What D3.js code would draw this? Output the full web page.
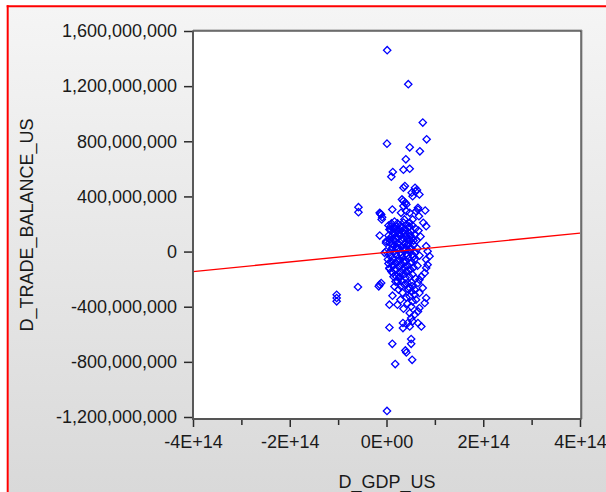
<!DOCTYPE html>
<html>
<head>
<meta charset="utf-8">
<script src="https://cdn.jsdelivr.net/npm/d3@7"></script>
<style>
  html, body { margin: 0; padding: 0; background: #ffffff; }
  svg { display: block; }
  .tick text { font-family: "Liberation Sans", Arial, sans-serif; font-size: 18px; fill: #1a1a1a; }
</style>
</head>
<body>
<svg id="chart" width="606" height="492"></svg>
<script>
// First differences of US GDP (x) and US trade balance (y), one entry per observation.
const dGdpUs = [
  1.4e12, 45e12, 75e12, 83e12, 1e12, 48e12, 69e12, 40e12, 35e12, 48e12,
  13e12, 10e12, 35e12, 38e12, 59e12, 63e12, 52e12, 68e12, 54e12, 60e12,
  32e12, 39e12, 35e12, -58e12, -58e12, -14e12, -11e12, 12e12, 30e12, 41e12,
  48e12, 61e12, 65e12, 80e12, -13e12, -9e12, -10e12, 35e12, 41e12, 65e12,
  67e12, 54e12, 48e12, 37e12, 76e12, 82e12, -14e12, -1e12, 6e12, 17e12,
  82e12, 85e12, 89e12, 82e12, 85e12, 82e12, 79e12, 72e12, 68e12, -1e12,
  3e12, 6e12, 13e12, 20e12, 27e12, 23e12, -59e12, -14e12, -11e12, -16e12,
  30e12, 37e12, 44e12, 48e12, 54e12, 65e12, 75e12, 68e12, -103e12, -103e12,
  -103e12, 6e12, 48e12, 58e12, 61e12, 54e12, 51e12, 82e12, 79e12, 68e12,
  65e12, 48e12, 58e12, 51e12, 44e12, 54e12, 34e12, 34e12, 48e12, 72e12,
  65e12, 6e12, 12e12, 51e12, 51e12, 39e12, 41e12, 53e12, 18e12, 1e12,
  4.1e12, 10.3e12, 16.5e12, 22.7e12, 28.9e12, 35.1e12, 41.3e12, 47.5e12, 53.7e12, 59.9e12,
  66.1e12, 8.3e12, 14.5e12, 20.7e12, 26.9e12, 33.1e12, 39.3e12, 45.5e12, 51.7e12, 57.9e12,
  4.1e12, 10.3e12, 16.5e12, 22.7e12, 28.9e12, 35.1e12, 41.3e12, 47.5e12, 53.7e12, 62e12,
  70.3e12, 6.2e12, 12.4e12, 18.6e12, 24.8e12, 31e12, 37.2e12, 43.4e12, 49.6e12, 55.8e12,
  64.1e12, 10.3e12, 16.5e12, 22.7e12, 28.9e12, 35.1e12, 41.3e12, 47.5e12, 53.7e12, 59.9e12,
  68.2e12, 8.3e12, 14.5e12, 20.7e12, 26.9e12, 33.1e12, 39.3e12, 45.5e12, 51.7e12, 57.9e12,
  4.1e12, 12.4e12, 18.6e12, 24.8e12, 31e12, 37.2e12, 43.4e12, 49.6e12, 55.8e12, 64.1e12,
  10.3e12, 16.5e12, 28.9e12, 35.1e12, 41.3e12, 47.5e12, 53.7e12, 59.9e12, 18.6e12, 31e12,
  39.3e12, 45.5e12, 33.1e12, 24.8e12, 16.5e12, 12.4e12, 41.3e12, 28.9e12, 22.7e12, 35.1e12,
  43.4e12, 51.7e12, 57.9e12, 14.5e12, 26.9e12, 39.3e12, 22.7e12, 35.1e12, 20.7e12, 45.5e12,
  10.3e12, -0.6e12, -4e12,
  8.3e12, 20.7e12, 33.1e12, 45.5e12, 12.4e12, 24.8e12, 37.2e12, 49.6e12, 6.2e12, 18.6e12,
  31e12, 43.4e12, 55.8e12, 12.4e12, 24.8e12, 37.2e12, 49.6e12, 6.2e12, 18.6e12, 31e12,
  43.4e12, 55.8e12, 24.8e12, 37.2e12, 49.6e12, 6.2e12, 20.7e12, 33.1e12, 45.5e12, 14.5e12,
  26.9e12, 39.3e12, 51.7e12
];
const dTradeBalanceUs = [
  1461e6, 1214e6, 936e6, 814e6, 783e6, 756e6, 727e6, 669e6, 594e6, 601e6,
  577e6, 543e6, 463e6, 475e6, 463e6, 446e6, 427e6, 414e6, 402e6, 438e6,
  378e6, 354e6, 366e6, 322e6, 286e6, 281e6, 269e6, 305e6, 281e6, 293e6,
  281e6, 293e6, 318e6, 298e6, 274e6, 249e6, 233e6, 330e6, 342e6, 305e6,
  257e6, 233e6, 209e6, 233e6, 209e6, 184e6, 116e6, 63e6, 160e6, 172e6,
  39e6, 2e6, -34e6, -58e6, -95e6, -119e6, -155e6, -180e6, -204e6, 2e6,
  -58e6, -119e6, -155e6, -180e6, -191e6, -216e6, -257e6, -240e6, -228e6, -252e6,
  -252e6, -240e6, -228e6, -264e6, -252e6, -228e6, -264e6, -300e6, -313e6, -337e6,
  -361e6, -385e6, -325e6, -313e6, -349e6, -361e6, -398e6, -337e6, -373e6, -410e6,
  -434e6, -446e6, -458e6, -482e6, -518e6, -506e6, -518e6, -555e6, -543e6, -543e6,
  -518e6, -551e6, -669e6, -635e6, -669e6, -717e6, -732e6, -785e6, -816e6, -1156e6,
  189e6, 204e6, 218e6, 204e6, 189e6, 211e6, 196e6, 182e6, 189e6, 167e6,
  153e6, 160e6, 167e6, 153e6, 160e6, 145e6, 160e6, 138e6, 145e6, 124e6,
  116e6, 109e6, 124e6, 102e6, 116e6, 95e6, 109e6, 87e6, 95e6, 80e6,
  109e6, 65e6, 51e6, 73e6, 58e6, 36e6, 58e6, 44e6, 29e6, 51e6,
  22e6, 15e6, 0, 22e6, -7e6, 7e6, -15e6, 0, -22e6, -7e6,
  -29e6, -36e6, -51e6, -29e6, -58e6, -44e6, -65e6, -51e6, -73e6, -58e6,
  -87e6, -102e6, -80e6, -109e6, -95e6, -116e6, -102e6, -131e6, -116e6, -102e6,
  -145e6, -131e6, -153e6, -167e6, -145e6, -182e6, -167e6, -196e6, -218e6, -211e6,
  -233e6, -276e6, -298e6, -276e6, -254e6, -320e6, -334e6, -349e6, -385e6, -414e6,
  -378e6, -291e6, -276e6, 87e6, 131e6, 15e6, -73e6, -73e6, 36e6, 58e6,
  -73e6, 75e6, -9e6,
  182e6, 182e6, 174e6, 174e6, 138e6, 131e6, 131e6, 116e6, 87e6, 95e6,
  80e6, 87e6, 80e6, 29e6, 22e6, 29e6, 15e6, -7e6, -15e6, -22e6,
  -29e6, -36e6, -65e6, -80e6, -87e6, -124e6, -131e6, -131e6, -138e6, -182e6,
  -182e6, -189e6, -225e6
];

// Axis ticks
const yTickValues = [-1.2e9, -8e8, -4e8, 0, 4e8, 8e8, 1.2e9, 1.6e9];
const xTickValues = [-4e14, -2e14, 0, 2e14, 4e14];
const xTickLabels = ["-4E+14", "-2E+14", "0E+00", "2E+14", "4E+14"];
const xMinorTickValues = [-3e14, -1e14, 1e14, 3e14];

// Least-squares fit line: y = intercept + slope * x
const fitIntercept = -5.5e6;
const fitSlope = 3.49e-7;

const xTitle = "D_GDP_US";
const yTitle = "D_TRADE_BALANCE_US";

const svg = d3.select("#chart");
const W = 606, H = 492;
const plot = { left: 193, top: 31, right: 581, bottom: 419 };

const x = d3.scaleLinear().domain([-4e14, 4e14]).range([193, 580]);
const y = d3.scaleLinear().domain([-1.2e9, 1.6e9]).range([417, 31]);

const locale = d3.formatLocale({ decimal: ".", thousands: ",", grouping: [3], currency: ["$", ""], minus: "-" });
const yFormat = locale.format(",");

// Window background with gradient and red outline
const defs = svg.append("defs");
const grad = defs.append("linearGradient").attr("id", "bg").attr("x1", 0).attr("y1", 0).attr("x2", 0).attr("y2", 1);
grad.append("stop").attr("offset", "0%").attr("stop-color", "#f5f5f5");
grad.append("stop").attr("offset", "100%").attr("stop-color", "#d9d9d9");

svg.append("rect").attr("x", 0).attr("y", 0).attr("width", W).attr("height", H).attr("fill", "#ffffff");
svg.append("rect").attr("x", 8.5).attr("y", 7).attr("width", W - 8.5).attr("height", H - 7).attr("fill", "url(#bg)");
svg.append("line").attr("x1", 7.7).attr("x2", 7.7).attr("y1", 5.3).attr("y2", H)
  .attr("stroke", "#ff0000").attr("stroke-width", 2);
svg.append("line").attr("x1", 6.7).attr("x2", W).attr("y1", 6.3).attr("y2", 6.3)
  .attr("stroke", "#ff0000").attr("stroke-width", 2);

// Plot area
svg.append("rect")
  .attr("x", plot.left).attr("y", plot.top)
  .attr("width", plot.right - plot.left).attr("height", plot.bottom - plot.top)
  .attr("fill", "#ffffff");
// soft shadow on top/right edges
svg.append("path")
  .attr("d", `M${plot.left},${plot.top - 1}H${plot.right + 1}V${plot.bottom}`)
  .attr("fill", "none").attr("stroke", "#9a9a9a").attr("stroke-width", 1);
svg.append("rect")
  .attr("x", plot.left).attr("y", plot.top)
  .attr("width", plot.right - plot.left).attr("height", plot.bottom - plot.top)
  .attr("fill", "none").attr("stroke", "#333333").attr("stroke-width", 1.2);

svg.append("clipPath").attr("id", "plotClip").append("rect")
  .attr("x", plot.left).attr("y", plot.top)
  .attr("width", plot.right - plot.left).attr("height", plot.bottom - plot.top);

// Points: hollow blue diamonds
const points = d3.range(dGdpUs.length).map(i => ({ gdp: dGdpUs[i], trade: dTradeBalanceUs[i] }));
const marker = d3.symbol().type(d3.symbolSquare).size(27);
svg.append("g").attr("clip-path", "url(#plotClip)")
  .selectAll("path").data(points).join("path")
  .attr("d", marker)
  .attr("transform", d => `translate(${x(d.gdp)},${y(d.trade)}) rotate(45)`)
  .attr("fill", "none")
  .attr("stroke", "#0000ff")
  .attr("stroke-width", 1.3);

// Fit line
const fitLine = d3.line().x(d => x(d)).y(d => y(fitIntercept + fitSlope * d));
svg.append("path").attr("clip-path", "url(#plotClip)")
  .datum(x.domain())
  .attr("d", fitLine)
  .attr("fill", "none").attr("stroke", "#ff0000").attr("stroke-width", 1.3);

// Axes
const yAxis = svg.append("g").attr("transform", `translate(${plot.left},0)`)
  .call(d3.axisLeft(y).tickValues(yTickValues).tickSize(9).tickPadding(7).tickFormat(yFormat));
yAxis.select(".domain").remove();

const xAxis = svg.append("g").attr("transform", `translate(0,${plot.bottom})`)
  .call(d3.axisBottom(x).tickValues(xTickValues).tickSize(8).tickPadding(8)
    .tickFormat((d, i) => xTickLabels[i]));
xAxis.select(".domain").remove();

const xMinor = svg.append("g").attr("transform", `translate(0,${plot.bottom})`)
  .call(d3.axisBottom(x).tickValues(xMinorTickValues).tickSize(6).tickFormat(""));
xMinor.select(".domain").remove();

svg.selectAll(".tick line").attr("stroke", "#2a2a2a").attr("stroke-width", 1.5);

// Axis lines (left and bottom)
svg.append("path")
  .attr("d", `M${plot.left},${plot.top}V${plot.bottom}H${plot.right}`)
  .attr("fill", "none").attr("stroke", "#555555").attr("stroke-width", 1.8);

// Axis titles
svg.append("text")
  .attr("x", 387).attr("y", 488)
  .attr("text-anchor", "middle")
  .attr("font-family", "Liberation Sans, Arial, sans-serif").attr("font-size", 18).attr("fill", "#1a1a1a")
  .text(xTitle);
svg.append("text")
  .attr("transform", "translate(33,225) rotate(-90)")
  .attr("text-anchor", "middle")
  .attr("font-family", "Liberation Sans, Arial, sans-serif").attr("font-size", 18).attr("fill", "#1a1a1a")
  .text(yTitle);
</script>
</body>
</html>
